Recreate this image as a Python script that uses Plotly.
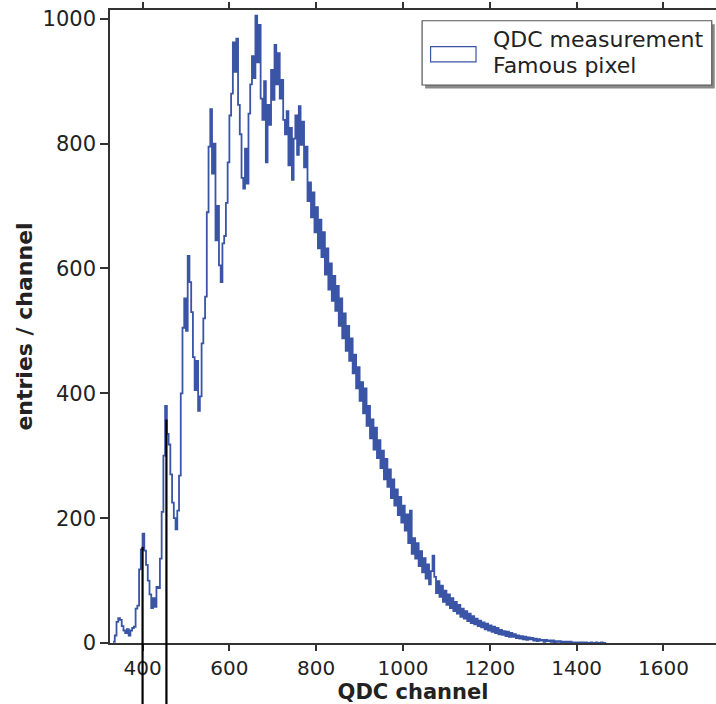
import numpy as np
import plotly.graph_objects as go

# ---------------- data ----------------
bin_start = 332      # first bin lower edge (QDC channel)
bin_width = 4        # channels per bin
counts = [
    2, 12, 34, 40, 37, 27, 20, 16, 22, 12,
    20, 24, 26, 55, 60, 118, 150, 175, 148, 125,
    100, 78, 56, 72, 58, 90, 88, 135, 210, 300,
    380, 335, 318, 270, 225, 200, 182, 212, 268, 400,
    505, 552, 500, 620, 578, 530, 458, 405, 452, 372,
    395, 480, 520, 555, 690, 795, 855, 752, 800, 645,
    700, 605, 578, 640, 652, 705, 770, 845, 880, 962,
    915, 968, 862, 815, 745, 728, 792, 736, 848, 895,
    940, 905, 1005, 930, 990, 872, 838, 900, 770, 862,
    830, 918, 870, 958, 895, 945, 872, 902, 838, 815,
    852, 765, 825, 742, 808, 845, 782, 860, 798, 835,
    762, 795, 708, 738, 682, 722, 658, 698, 632, 678,
    618, 658, 590, 632, 566, 608, 548, 588, 532, 572,
    508, 552, 488, 528, 468, 508, 452, 488, 432, 462,
    408, 442, 388, 418, 368, 408, 348, 380, 328, 358,
    310, 345, 296, 325, 280, 308, 262, 295, 250, 278,
    232, 262, 220, 246, 205, 234, 193, 220, 180, 206,
    160, 212, 143, 168, 135, 160, 123, 147, 113, 136,
    103, 126, 94, 115, 140, 106, 80, 99, 74, 92,
    66, 84, 61, 78, 56, 72, 51, 66, 47, 61,
    42, 55, 39, 51, 35, 47, 32, 43, 30, 39,
    27, 36, 25, 33, 22, 31, 20, 28, 18, 26,
    16, 24, 14, 21, 13, 19, 11, 18, 10, 16,
    10, 14, 8, 12, 7, 11, 6, 10, 5, 9,
    6, 8, 4, 7, 3, 6, 4, 5, 2, 5,
    3, 4, 2, 4, 1, 3, 2, 3, 1, 2,
    1, 2, 1, 2, 0, 1, 0, 1, 1, 0,
    1, 0, 1, 0, 0, 1, 0, 0, 1, 0,
    0, 1, 0, 0,
]
marker_channels = [400, 455]
marker_heights = [154, 358]

x_ticks = [400, 600, 800, 1000, 1200, 1400, 1600]
y_ticks = [0, 200, 400, 600, 800, 1000]
x_range = [325, 1721]
y_range = [0, 1014]
legend_lines = ["QDC measurement", "Famous pixel"]

# ---------------- figure ----------------
BLUE = "#3a54a6"
AXIS = "#333333"
TEXT = "#222222"
FONT = "DejaVu Sans"

edges = bin_start + bin_width * np.arange(len(counts) + 1)
y_step = counts + [counts[-1]]

fig = go.Figure()
fig.add_trace(go.Scatter(
    x=edges, y=y_step, mode="lines", line_shape="hv",
    line=dict(color=BLUE, width=1.8), showlegend=False, hoverinfo="skip",
))

shapes = []
for xc, h in zip(marker_channels, marker_heights):
    # part inside the frame (data coordinates)
    shapes.append(dict(type="line", xref="x", yref="y", x0=xc, x1=xc, y0=0, y1=h,
                       line=dict(color="black", width=2.2), layer="above"))
    # continuation below the frame down to the page edge
    shapes.append(dict(type="line", xref="x", yref="paper", x0=xc, x1=xc, y0=-0.2, y1=0,
                       line=dict(color="black", width=2.2), layer="above"))

# legend box (drawn by hand: shadow, frame, symbol)
lx0, lx1, ly0, ly1 = 0.515, 0.993, 0.8815, 0.983
shapes.append(dict(type="rect", xref="paper", yref="paper",
                   x0=lx0 + 0.005, x1=lx1 + 0.005, y0=ly0 - 0.0055, y1=ly1 - 0.0055,
                   line=dict(width=0), fillcolor="#8a8a8a", layer="above"))
shapes.append(dict(type="rect", xref="paper", yref="paper",
                   x0=lx0, x1=lx1, y0=ly0, y1=ly1,
                   line=dict(color="#555555", width=1.2), fillcolor="white", layer="above"))
shapes.append(dict(type="rect", xref="paper", yref="paper",
                   x0=0.529, x1=0.604, y0=0.918, y1=0.942,
                   line=dict(color=BLUE, width=1.2), fillcolor="white", layer="above"))

annotations = [
    dict(xref="paper", yref="paper", x=0.628, y=0.954, xanchor="left", yanchor="middle",
         text=legend_lines[0], showarrow=False, font=dict(family=FONT, size=22, color=TEXT)),
    dict(xref="paper", yref="paper", x=0.628, y=0.913, xanchor="left", yanchor="middle",
         text=legend_lines[1], showarrow=False, font=dict(family=FONT, size=22, color=TEXT)),
]

fig.update_layout(
    width=716, height=704,
    margin=dict(l=110, r=0, t=10, b=61, pad=0),
    paper_bgcolor="white", plot_bgcolor="white",
    font=dict(family=FONT, color=TEXT),
    shapes=shapes, annotations=annotations,
    showlegend=False,
)
fig.update_xaxes(
    range=x_range, tickvals=x_ticks, ticktext=[str(v) for v in x_ticks],
    showgrid=False, zeroline=False,
    showline=True, linecolor=AXIS, linewidth=1.5, mirror="ticks",
    ticks="outside", ticklen=6, tickwidth=1.5, tickcolor=AXIS,
    tickfont=dict(family=FONT, size=20, color=TEXT),
    title=dict(text="<b>QDC channel</b>", font=dict(family=FONT, size=21, color=TEXT), standoff=3),
)
fig.update_yaxes(
    range=y_range, tickvals=y_ticks, ticktext=[str(v) for v in y_ticks],
    showgrid=False, zeroline=False,
    showline=True, linecolor=AXIS, linewidth=1.5, mirror=False,
    ticks="outside", ticklen=8, tickwidth=1.5, tickcolor=AXIS,
    tickfont=dict(family=FONT, size=21, color=TEXT),
    title=dict(text="<b>entries / channel</b>", font=dict(family=FONT, size=22, color=TEXT), standoff=4),
)

fig.write_html("out.html")
